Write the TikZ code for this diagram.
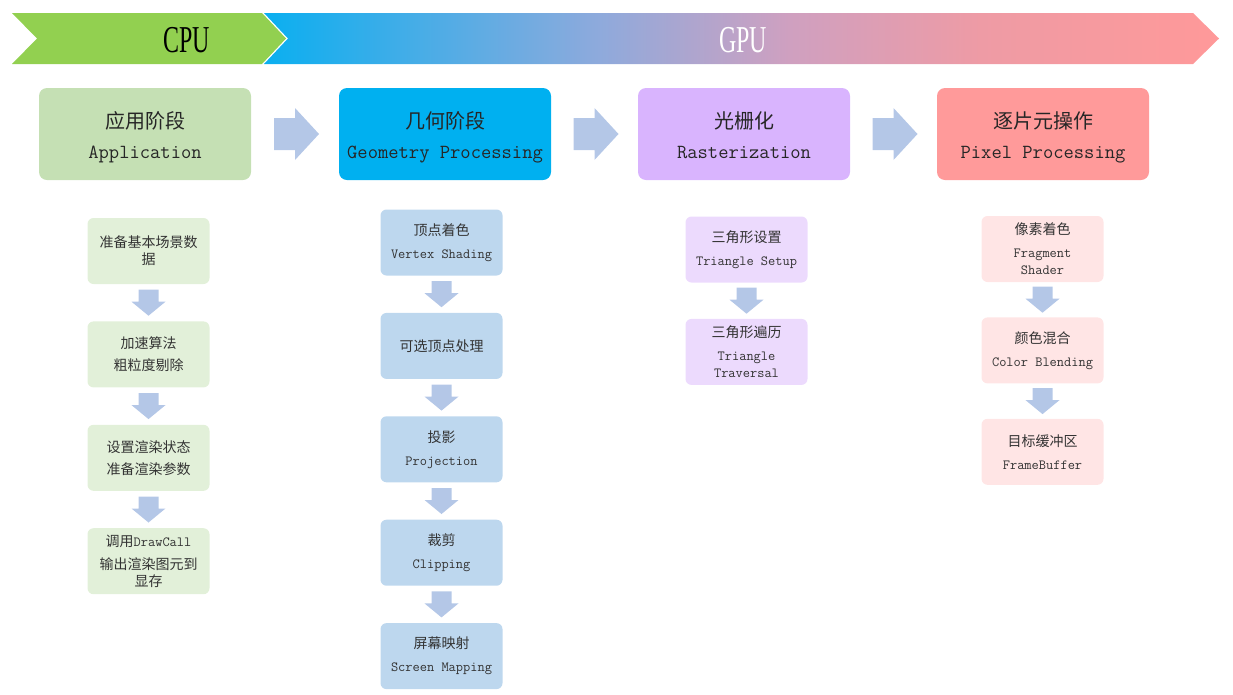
\documentclass[tikz,border=0pt]{standalone}
\usepackage{fontspec}
\usetikzlibrary{positioning,calc}
\newfontfamily\cjk{Noto Sans CJK SC}
\newfontfamily\bannerfont[FakeStretch=0.63]{Liberation Serif}
\newcommand\eng[1]{{\ttfamily #1}}
\newcommand\hstrut{\rule{0pt}{24pt}}
\newcommand\dstrut{\rule[-5pt]{0pt}{5pt}}
\definecolor{cpugreen}{HTML}{92D050}
\definecolor{gpuA}{HTML}{0AAFF0}
\definecolor{gpuB}{HTML}{8EAADC}
\definecolor{gpuC}{HTML}{CFA0C0}
\definecolor{gpuD}{HTML}{EE9BA5}
\definecolor{gpuE}{HTML}{FF9999}
\definecolor{appgreen}{HTML}{C5E0B4}
\definecolor{geoblue}{HTML}{00B0F0}
\definecolor{raspurple}{HTML}{D9B4FE}
\definecolor{pixred}{HTML}{FF9A9A}
\definecolor{appsub}{HTML}{E2F0D9}
\definecolor{geosub}{HTML}{BDD7EE}
\definecolor{rassub}{HTML}{ECDAFD}
\definecolor{pixsub}{HTML}{FFE5E5}
\definecolor{arrowblue}{HTML}{B4C7E7}
\pgfdeclarehorizontalshading{gpushade}{100bp}{color(0bp)=(gpuA); color(25bp)=(gpuA); color(42.5bp)=(gpuB); color(52.5bp)=(gpuC); color(62.5bp)=(gpuD); color(75bp)=(gpuE); color(100bp)=(gpuE)}

\begin{document}
\begin{tikzpicture}[x=1pt, y=-1pt, node distance=37pt,
  stage/.style={rounded corners=8pt, minimum width=212pt, minimum height=92pt,
    inner sep=0pt, align=center, text=black!85, font=\cjk\fontsize{20}{30}\selectfont},
  stepnode/.style={rounded corners=6pt, minimum width=122pt, minimum height=66pt,
    inner sep=0pt, align=center, text=black!80, font=\cjk\fontsize{14}{17}\selectfont},
  banner/.style={font=\bannerfont\fontsize{38}{38}\selectfont},
  flow/.style={fill=arrowblue}]
\useasboundingbox (0,0) rectangle (1233,694);

\fill[cpugreen] (12,13) -- (262,13) -- (286,38.5) -- (262,64) -- (12,64) -- (37,38.5) -- cycle;
\shade[shading=gpushade] (264,13) -- (1193,13) -- (1219,38.5) -- (1193,64) -- (264,64) -- (288,38.5) -- cycle;
\node[banner] (cpu) at (187,40) {CPU};
\node[banner, text=white] (gpu) at (743,40) {GPU};

\node[stage, fill=appgreen] (app) at (145,134) {\hstrut 应用阶段\\\eng{Application}\dstrut};
\node[stage, fill=geoblue] (geo) at (445,134) {\hstrut 几何阶段\\\eng{Geometry Processing}\dstrut};
\node[stage, fill=raspurple] (ras) at (744,134) {\hstrut 光栅化\\\eng{Rasterization}\dstrut};
\node[stage, fill=pixred] (pix) at (1043,134) {\hstrut 逐片元操作\\\eng{Pixel Processing}\dstrut};

\foreach \a/\b in {app/geo, geo/ras, ras/pix}{
  \begin{scope}[shift={($(\a.east)!0.5!(\b.west)$)}]
    \fill[flow] (-21,-16) -- (0,-16) -- (0,-26) -- (24,0) -- (0,26) -- (0,16) -- (-21,16) -- cycle;
  \end{scope}
}

\node[stepnode, fill=appsub] (app1) at (148.5,251) {准备基本场景数\\据};
\node[stepnode, fill=appsub, below=of app1] (app2) {加速算法\\[5pt]粗粒度剔除};
\node[stepnode, fill=appsub, below=of app2] (app3) {设置渲染状态\\[5pt]准备渲染参数};
\node[stepnode, fill=appsub, below=of app3] (app4) {调用\eng{DrawCall}\\[6pt]输出渲染图元到\\显存};

\node[stepnode, fill=geosub] (geo1) at (441.5,242.5) {顶点着色\\[6pt]\eng{Vertex Shading}};
\node[stepnode, fill=geosub, below=of geo1] (geo2) {可选顶点处理};
\node[stepnode, fill=geosub, below=of geo2] (geo3) {投影\\[6pt]\eng{Projection}};
\node[stepnode, fill=geosub, below=of geo3] (geo4) {裁剪\\[6pt]\eng{Clipping}};
\node[stepnode, fill=geosub, below=of geo4] (geo5) {屏幕映射\\[6pt]\eng{Screen Mapping}};

\node[stepnode, fill=rassub] (ras1) at (746.5,249.5) {三角形设置\\[6pt]\eng{Triangle Setup}};
\node[stepnode, fill=rassub, below=36pt of ras1] (ras2) {三角形遍历\\[6pt]\eng{Triangle}\\\eng{Traversal}};

\node[stepnode, fill=pixsub] (pix1) at (1042.5,249) {像素着色\\[6pt]\eng{Fragment}\\\eng{Shader}};
\node[stepnode, fill=pixsub, below=35pt of pix1] (pix2) {颜色混合\\[6pt]\eng{Color Blending}};
\node[stepnode, fill=pixsub, below=35pt of pix2] (pix3) {目标缓冲区\\[6pt]\eng{FrameBuffer}};

\foreach \a/\b in {app1/app2, app2/app3, app3/app4, geo1/geo2, geo2/geo3, geo3/geo4,
    geo4/geo5, ras1/ras2, pix1/pix2, pix2/pix3}{
  \begin{scope}[shift={($(\a.south)!0.5!(\b.north)$)}]
    \fill[flow] (-10,-13) -- (10,-13) -- (10,-1) -- (17,-1) -- (0,13) -- (-17,-1) -- (-10,-1) -- cycle;
  \end{scope}
}
\end{tikzpicture}
\end{document}
